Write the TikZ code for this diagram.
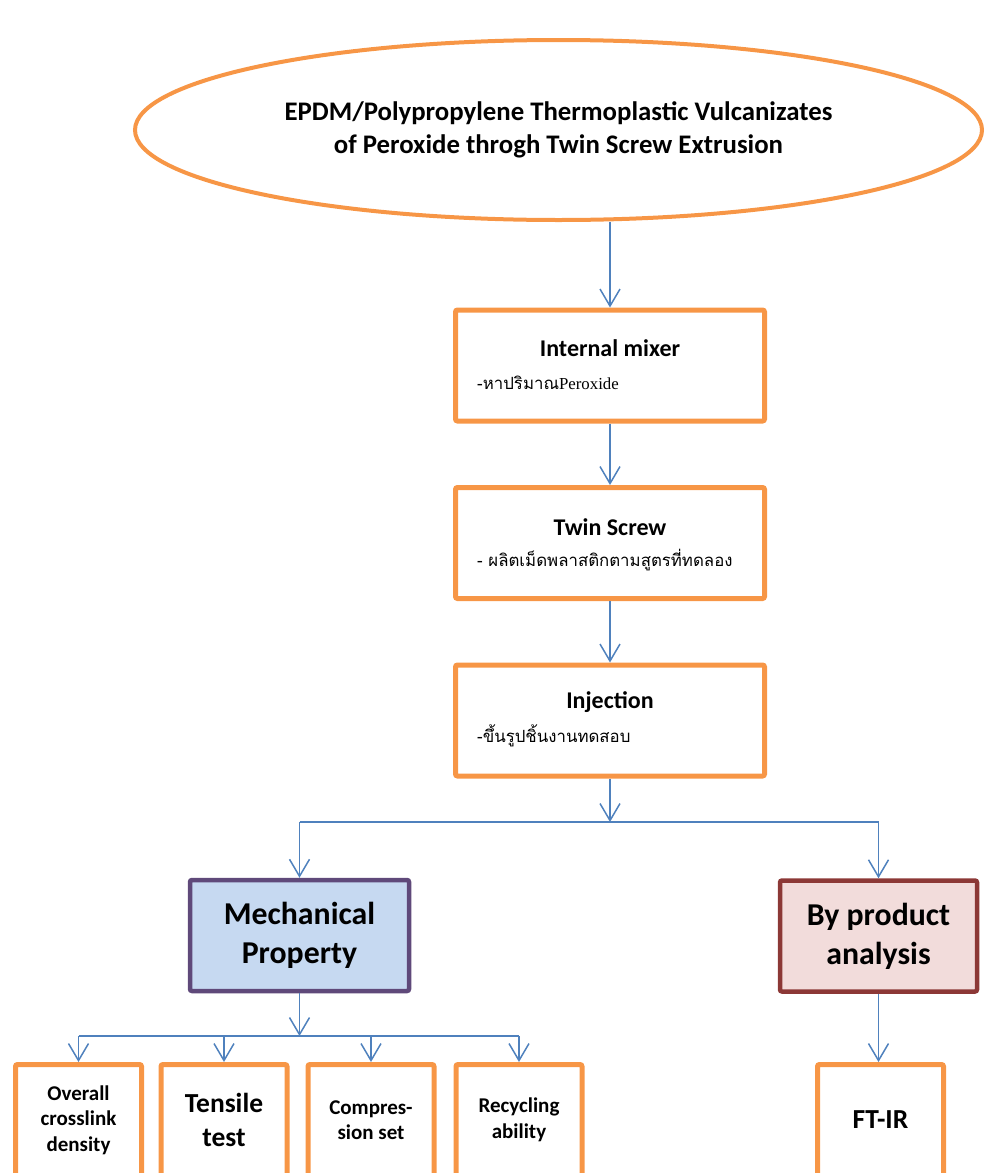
\documentclass[tikz,border=0pt]{standalone}
\usepackage{fontspec}
\setmainfont{Carlito}
\newfontfamily\thaifont[Script=Thai]{Loma}
\newfontfamily\latinserif{Liberation Serif}
\usetikzlibrary{shapes.geometric,arrows.meta}

\definecolor{boxorange}{HTML}{F79646}
\definecolor{arrowblue}{HTML}{4F81BD}
\definecolor{mechline}{HTML}{5F497A}
\definecolor{mechfill}{HTML}{C6D9F1}
\definecolor{byline}{HTML}{8C3836}
\definecolor{byfill}{HTML}{F2DCDB}

\begin{document}
\begin{tikzpicture}[
		x=1pt, y=-1pt,
		node distance={177.5pt},
		box/.style = {draw=boxorange, line width=5pt, rounded corners=2pt, minimum width=309pt, minimum height=111pt, inner sep=0pt},
		leaf/.style = {draw=boxorange, line width=5pt, rounded corners=2pt, minimum width=126pt, minimum height=111pt, inner sep=0pt, align=center, font=\bfseries\fontsize{21}{25.5}\selectfont},
		group/.style = {line width=4.5pt, rounded corners=2pt, minimum width=219pt, minimum height=111pt, inner sep=0pt, align=center, font=\bfseries\fontsize{31.8}{39}\selectfont},
		head/.style = {inner sep=0pt, font=\bfseries\fontsize{24}{26}\selectfont},
		note/.style = {anchor=west, inner sep=0pt, font=\thaifont\fontsize{16.8}{18}\selectfont},
		flow/.style = {draw=arrowblue, line width=1.5pt, -{Straight Barb[length=17pt, width=20pt]}},
		link/.style = {draw=arrowblue, line width=1.5pt}
	]
	\useasboundingbox (0,0) rectangle (985,1173);
	\clip (0,0) rectangle (985,1173);
	% title
	\node[draw=boxorange, line width=4pt, ellipse, inner sep=0pt, minimum width=847pt, minimum height=180pt, align=center, font=\bfseries\fontsize{26.8}{33}\selectfont] (title) at (558.5,130) {EPDM/Polypropylene Thermoplastic Vulcanizates\\of Peroxide throgh Twin Screw Extrusion};
	% process steps
	\node[box] (mixer) at (610,365.5) {};
	\node[box] (twin) [below of=mixer] {};
	\node[box] (inj) [below of=twin] {};
	\node[head] (mixer-h) at ([yshift=17pt]mixer.center) {Internal mixer};
	\node[note] (mixer-n) at ([xshift=-133pt, yshift=-17pt]mixer.center) {-หาปริมาณ{\latinserif Peroxide}};
	\node[head] (twin-h) at ([yshift=16pt]twin.center) {Twin Screw};
	\node[note] (twin-n) at ([xshift=-133pt, yshift=-17pt]twin.center) {- ผลิตเม็ดพลาสติกตามสูตรที่ทดลอง};
	\node[head] (inj-h) at ([yshift=18pt]inj.center) {Injection};
	\node[note] (inj-n) at ([xshift=-133pt, yshift=-15pt]inj.center) {-ขึ้นรูปชิ้นงานทดสอบ};
	% groups
	\node[group, draw=mechline, fill=mechfill] (mech) at (299.5,935.5) {Mechanical\\Property};
	\node[group, draw=byline, fill=byfill, minimum width=197pt] (byprod) at (878.5,936) {By product\\analysis};
	% tests
	\node[leaf] (density) at (78.5,1120) {Overall\\crosslink\\density};
	\node[leaf, font=\bfseries\fontsize{27.5}{34}\selectfont] (tensile) at (224,1120) {Tensile\\test};
	\node[leaf] (compress) at (371,1120) {Compres-\\sion set};
	\node[leaf] (recycle) at (519,1120) {Recycling\\ability};
	\node[leaf, font=\bfseries\fontsize{27.5}{30}\selectfont] (ftir) at (880.5,1120) {FT-IR};
	\coordinate (split) at (610,822);
	\coordinate (fork) at (299.5,1036);
	% arrows
	\draw[flow] (mixer.north |- title.south) -- (mixer);
	\draw[flow] (mixer) -- (twin);
	\draw[flow] (twin) -- (inj);
	\draw[flow] (inj) -- (split);
	\draw[link] (mech.north |- split) -- (byprod.north |- split);
	\draw[flow] (mech.north |- split) -- (mech);
	\draw[flow] (byprod.north |- split) -- (byprod);
	\draw[flow] (mech) -- (fork);
	\draw[link] (density.north |- fork) -- (recycle.north |- fork);
	\foreach \t in {density,tensile,compress,recycle}
		\draw[flow] (\t.north |- fork) -- (\t);
	\draw[flow] (byprod.south) -- (byprod.south |- ftir.north);
\end{tikzpicture}
\end{document}
